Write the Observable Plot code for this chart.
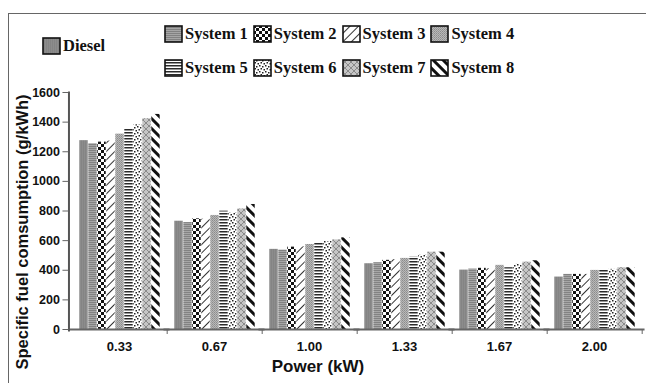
<!DOCTYPE html>
<html><head><meta charset="utf-8">
<script src="https://cdn.jsdelivr.net/npm/d3@7"></script>
<script src="https://cdn.jsdelivr.net/npm/@observablehq/plot@0.6"></script>
<style>
body{margin:0;background:#fff;}
#wrap{position:relative;width:646px;height:383px;overflow:hidden;background:#fff;font-family:"Liberation Sans",Arial,sans-serif;}
#chart{position:absolute;left:0;top:0;}
#frame{position:absolute;left:8px;top:13px;width:800px;height:500px;border-left:1.5px solid #666;border-top:1.5px solid #666;}
.lg{position:absolute;font-family:"Liberation Serif","Times New Roman",serif;font-weight:bold;font-size:16.5px;color:#111;display:flex;align-items:center;white-space:nowrap;}
.lg .it{display:flex;align-items:center;margin-right:5px;}
.lg svg{display:block;margin-right:2px;}
#ylab{position:absolute;left:22px;top:232px;transform:translate(-50%,-50%) rotate(-90deg);font-weight:bold;font-size:16.5px;color:#111;white-space:nowrap;}
#xlab{position:absolute;left:318px;top:367px;transform:translate(-50%,-50%);font-weight:bold;font-size:17px;color:#111;white-space:nowrap;}
</style></head><body>
<div id="wrap">
<svg width="0" height="0" style="position:absolute">
<defs>
<pattern id="p0" width="2" height="2" patternUnits="userSpaceOnUse"><rect width="2" height="2" fill="#8c8c8c"/><rect width="1" height="2" fill="#848484"/></pattern>
<pattern id="p1" width="2" height="2" patternUnits="userSpaceOnUse"><rect width="2" height="2" fill="#a6a6a6"/><rect width="2" height="1" fill="#828282"/></pattern>
<pattern id="p2" width="6" height="6" patternUnits="userSpaceOnUse"><rect width="6" height="6" fill="#fff"/><rect width="3" height="3" fill="#111"/><rect x="3" y="3" width="3" height="3" fill="#111"/></pattern>
<pattern id="p3" width="6" height="6" patternUnits="userSpaceOnUse" patternTransform="rotate(45)"><rect width="6" height="6" fill="#fff"/><rect width="1" height="6" fill="#333"/></pattern>
<pattern id="p4" width="2" height="2" patternUnits="userSpaceOnUse"><rect width="2" height="2" fill="#b8b8b8"/><rect width="1" height="1" fill="#8c8c8c"/><rect x="1" y="1" width="1" height="1" fill="#9a9a9a"/></pattern>
<pattern id="p5" width="3" height="3" patternUnits="userSpaceOnUse"><rect width="3" height="3" fill="#fff"/><rect width="3" height="1.5" fill="#2a2a2a"/></pattern>
<pattern id="p6" width="6" height="6" patternUnits="userSpaceOnUse"><rect width="6" height="6" fill="#fff"/><rect x="0" y="0" width="1.5" height="1.5" fill="#222"/><rect x="3" y="1" width="1.5" height="1.5" fill="#222"/><rect x="1.5" y="3" width="1.5" height="1.5" fill="#222"/><rect x="4.5" y="4" width="1.5" height="1.5" fill="#222"/></pattern>
<pattern id="p7" width="6" height="6" patternUnits="userSpaceOnUse"><rect width="6" height="6" fill="#c6c6c6"/><path d="M0,0L6,6M6,0L0,6" stroke="#8a8a8a" stroke-width="1"/></pattern>
<pattern id="p8" width="7" height="7" patternUnits="userSpaceOnUse" patternTransform="rotate(-45)"><rect width="7" height="7" fill="#fff"/><rect width="3" height="7" fill="#111"/></pattern>
</defs>
</svg>
<div id="chart"></div>
<div id="frame"></div>
<div id="legend"></div>
<div id="ylab">Specific fuel comsumption (g/kWh)</div>
<div id="xlab">Power (kW)</div>
</div>
<script>
const powers = ["0.33", "0.67", "1.00", "1.33", "1.67", "2.00"];
const series = ["Diesel", "System 1", "System 2", "System 3", "System 4", "System 5", "System 6", "System 7", "System 8"];
const diesel  = [1275, 731, 541, 444, 401, 354];
const system1 = [1254, 722, 536, 451, 408, 372];
const system2 = [1265, 747, 556, 467, 413, 372];
const system3 = [1272, 745, 558, 471, 410, 372];
const system4 = [1319, 770, 574, 480, 433, 399];
const system5 = [1355, 799, 583, 489, 417, 399];
const system6 = [1382, 787, 594, 502, 440, 406];
const system7 = [1423, 814, 605, 522, 455, 417];
const system8 = [1452, 844, 619, 522, 464, 417];
const yTicks = [0, 200, 400, 600, 800, 1000, 1200, 1400, 1600];
const legendTop = ["Diesel"];
const legendRow1 = ["System 1", "System 2", "System 3", "System 4"];
const legendRow2 = ["System 5", "System 6", "System 7", "System 8"];

const values = [diesel, system1, system2, system3, system4, system5, system6, system7, system8];
const fills = series.map((s, i) => `url(#p${i})`);
const fillOf = Object.fromEntries(series.map((s, i) => [s, fills[i]]));

const rows = [];
powers.forEach((p, i) => series.forEach((s, j) => rows.push({power: p, series: s, value: values[j][i]})));

const W = 646, H = 383, mL = 67, mR = 1, mT = 92, mB = 54;
const padIn = 0.14, padOut = 0.1;
const fxStep = (W - mL - mR) / (powers.length - padIn + 2 * padOut);
const outerGap = padOut * fxStep;
const innerGap = padIn * fxStep;
const frameH = H - mT - mB;

const chart = Plot.plot({
  width: W,
  height: H,
  marginLeft: mL,
  marginRight: mR,
  marginTop: mT,
  marginBottom: mB,
  style: {fontFamily: "'Liberation Sans', Arial, sans-serif", background: "transparent", color: "#111"},
  fx: {domain: powers, paddingInner: padIn, paddingOuter: padOut, label: null},
  x: {domain: series, axis: null, paddingInner: 0, paddingOuter: 0},
  y: {domain: [0, 1600], label: null},
  color: {type: "ordinal", domain: series, range: fills},
  marks: [
    Plot.barY(rows, {fx: "power", x: "series", y: "value", fill: "series", insetLeft: 0.3, insetRight: 0.3}),
    // x-axis baseline, bridged across facet gaps
    Plot.ruleY([0], {stroke: "#666", strokeWidth: 2, insetLeft: -outerGap, insetRight: -outerGap}),
    // small ticks between groups
    Plot.frame({anchor: "right", stroke: "#666", strokeWidth: 1, dx: innerGap / 2, insetTop: frameH, insetBottom: -4}),
    // y-axis line in the left-most facet, moved to the plot's left edge
    Plot.frame({anchor: "left", facetAnchor: "left", stroke: "#555", strokeWidth: 2, dx: -outerGap, insetBottom: -1}),
    Plot.axisY({ticks: yTicks, tickFormat: d => String(d), tickSize: 6, tickPadding: 3, label: null, fontWeight: "bold", fontSize: 12.5, stroke: "#666", dx: -outerGap}),
    Plot.axisFx({anchor: "bottom", tickSize: 0, tickPadding: 12, label: null, fontWeight: "bold", fontSize: 13})
  ]
});
document.getElementById("chart").appendChild(chart);

function swatch(name) {
  return `<svg width="19" height="18"><rect x="1" y="1" width="17" height="16" fill="${fillOf[name]}" stroke="#111" stroke-width="1.6"/></svg>`;
}
function row(names, left, top) {
  const div = document.createElement("div");
  div.className = "lg";
  div.style.left = left + "px";
  div.style.top = top + "px";
  div.innerHTML = names.map(n => `<span class="it">${swatch(n)}<span>${n}</span></span>`).join("");
  document.getElementById("legend").appendChild(div);
}
row(legendTop, 42, 36);
row(legendRow1, 164, 24);
row(legendRow2, 164, 58);
</script>
</body></html>
